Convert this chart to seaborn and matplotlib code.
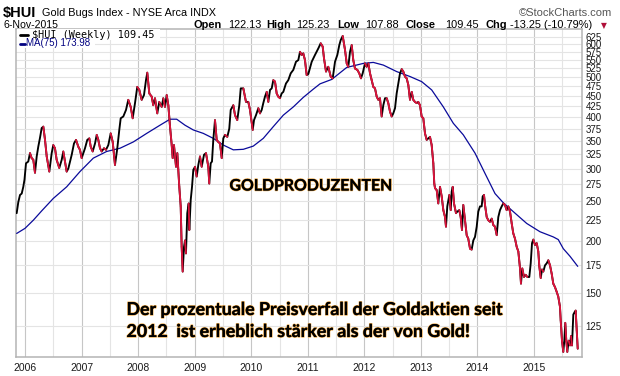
import numpy as np
import pandas as pd
import matplotlib
matplotlib.use("Agg")
import matplotlib.pyplot as plt
import seaborn as sns
from matplotlib.collections import LineCollection
from matplotlib.lines import Line2D
from matplotlib.patches import Rectangle
from matplotlib import patheffects as pe
from matplotlib.ticker import FixedLocator, FixedFormatter, NullLocator

# ---------------- data (decimal year, index value) ----------------
hui_t = [
    2005.853, 2005.882, 2005.912, 2005.942, 2005.970, 2005.991, 2006.018, 2006.058, 2006.088, 2006.118,
    2006.147, 2006.177, 2006.207, 2006.235, 2006.265, 2006.295, 2006.324, 2006.354, 2006.384, 2006.430,
    2006.472, 2006.500, 2006.530, 2006.560, 2006.606, 2006.649, 2006.677, 2006.707, 2006.737, 2006.766,
    2006.796, 2006.826, 2006.866, 2006.902, 2006.942, 2006.972, 2007.002, 2007.061, 2007.101, 2007.137,
    2007.162, 2007.197, 2007.238, 2007.268, 2007.296, 2007.326, 2007.356, 2007.397, 2007.432, 2007.473,
    2007.515, 2007.551, 2007.591, 2007.632, 2007.667, 2007.692, 2007.738, 2007.786, 2007.826, 2007.869,
    2007.904, 2007.945, 2007.985, 2008.021, 2008.063, 2008.104, 2008.139, 2008.162, 2008.198, 2008.240,
    2008.268, 2008.298, 2008.339, 2008.374, 2008.417, 2008.445, 2008.475, 2008.505, 2008.534, 2008.564,
    2008.594, 2008.611, 2008.634, 2008.670, 2008.693, 2008.710, 2008.728, 2008.753, 2008.770, 2008.788,
    2008.811, 2008.829, 2008.846, 2008.869, 2008.894, 2008.905, 2008.930, 2008.953, 2008.976, 2009.006,
    2009.036, 2009.064, 2009.094, 2009.124, 2009.165, 2009.200, 2009.241, 2009.258, 2009.283, 2009.306,
    2009.329, 2009.359, 2009.389, 2009.418, 2009.448, 2009.478, 2009.506, 2009.536, 2009.577, 2009.612,
    2009.637, 2009.683, 2009.713, 2009.753, 2009.789, 2009.814, 2009.860, 2009.907, 2009.948, 2009.978,
    2010.026, 2010.049, 2010.084, 2010.125, 2010.155, 2010.185, 2010.213, 2010.243, 2010.273, 2010.302,
    2010.332, 2010.362, 2010.390, 2010.420, 2010.450, 2010.478, 2010.508, 2010.538, 2010.567, 2010.614,
    2010.655, 2010.698, 2010.744, 2010.791, 2010.832, 2010.862, 2010.892, 2010.920, 2010.950, 2010.980,
    2011.009, 2011.069, 2011.127, 2011.186, 2011.228, 2011.263, 2011.286, 2011.322, 2011.362, 2011.405,
    2011.440, 2011.481, 2011.522, 2011.557, 2011.582, 2011.617, 2011.658, 2011.688, 2011.716, 2011.746,
    2011.776, 2011.804, 2011.834, 2011.875, 2011.910, 2011.940, 2011.970, 2012.011, 2012.041, 2012.070,
    2012.100, 2012.130, 2012.158, 2012.188, 2012.218, 2012.246, 2012.276, 2012.306, 2012.335, 2012.365,
    2012.395, 2012.423, 2012.453, 2012.483, 2012.511, 2012.542, 2012.571, 2012.600, 2012.630, 2012.660,
    2012.688, 2012.718, 2012.748, 2012.777, 2012.807, 2012.837, 2012.865, 2012.895, 2012.925, 2012.953,
    2012.983, 2013.013, 2013.042, 2013.072, 2013.102, 2013.130, 2013.160, 2013.190, 2013.219, 2013.236,
    2013.249, 2013.279, 2013.307, 2013.337, 2013.367, 2013.396, 2013.426, 2013.443, 2013.466, 2013.502,
    2013.527, 2013.544, 2013.562, 2013.585, 2013.620, 2013.643, 2013.678, 2013.703, 2013.726, 2013.749,
    2013.779, 2013.809, 2013.837, 2013.868, 2013.897, 2013.926, 2013.956, 2013.986, 2014.014, 2014.044,
    2014.074, 2014.092, 2014.115, 2014.133, 2014.163, 2014.191, 2014.221, 2014.251, 2014.280, 2014.310,
    2014.340, 2014.368, 2014.398, 2014.428, 2014.456, 2014.486, 2014.516, 2014.545, 2014.575, 2014.605,
    2014.633, 2014.663, 2014.693, 2014.722, 2014.752, 2014.769, 2014.792, 2014.822, 2014.852, 2014.881,
    2014.916, 2014.941, 2014.964, 2014.987, 2015.017, 2015.047, 2015.075, 2015.093, 2015.118, 2015.141,
    2015.164, 2015.194, 2015.224, 2015.252, 2015.282, 2015.312, 2015.340, 2015.370, 2015.400, 2015.428,
    2015.458, 2015.471, 2015.494, 2015.517, 2015.535, 2015.552, 2015.570, 2015.588, 2015.612, 2015.636,
    2015.653, 2015.671, 2015.694, 2015.719, 2015.736, 2015.754, 2015.772,
]
hui_v = [
    234, 249, 259, 261, 271, 282, 309, 312, 327, 318,
    315, 293, 321, 339, 356, 376, 379, 352, 321, 295,
    327, 342, 336, 315, 301, 315, 330, 312, 295, 300,
    312, 324, 345, 352, 339, 333, 318, 336, 352, 355,
    339, 330, 345, 362, 352, 336, 330, 336, 333, 342,
    365, 348, 306, 336, 372, 397, 401, 416, 440, 423,
    397, 432, 473, 465, 440, 452, 491, 512, 456, 448,
    427, 444, 408, 435, 423, 444, 423, 452, 427, 379,
    342, 318, 342, 303, 327, 298, 271, 243, 194, 169,
    194, 201, 187, 234, 247, 213, 252, 271, 298, 303,
    287, 306, 321, 303, 324, 327, 303, 276, 309, 312,
    352, 393, 352, 348, 345, 318, 355, 362, 358, 375,
    416, 427, 404, 393, 427, 469, 469, 435, 435, 416,
    372, 393, 404, 420, 408, 416, 432, 448, 460, 435,
    465, 469, 491, 487, 456, 448, 444, 456, 460, 482,
    491, 510, 520, 544, 549, 575, 565, 570, 549, 505,
    508, 544, 565, 586, 603, 592, 555, 515, 529, 501,
    496, 544, 565, 597, 614, 628, 581, 539, 529, 575,
    597, 549, 524, 520, 510, 496, 510, 539, 529, 539,
    510, 491, 473, 469, 448, 440, 444, 401, 427, 444,
    444, 432, 412, 401, 408, 420, 456, 482, 510, 522,
    515, 501, 496, 478, 440, 460, 440, 435, 432, 435,
    427, 401, 397, 365, 352, 355, 358, 342, 309, 276,
    269, 266, 247, 271, 257, 238, 229, 217, 243, 259,
    238, 264, 271, 247, 234, 236, 238, 229, 213, 245,
    225, 207, 203, 192, 191, 201, 205, 217, 236, 243,
    243, 257, 259, 245, 229, 225, 223, 227, 219, 217,
    207, 229, 238, 243, 247, 245, 238, 243, 236, 221,
    209, 203, 194, 189, 172, 158, 172, 164, 166, 164,
    164, 177, 198, 202, 196, 198, 189, 174, 163, 171,
    169, 175, 177, 180, 175, 167, 158, 155, 151, 147,
    139, 129, 115, 108, 115, 127, 115, 108, 115, 112,
    118, 112, 133, 135, 136, 122, 110,
]
ma_t = [
    2005.853, 2006.000, 2006.147, 2006.295, 2006.500, 2006.737, 2006.972, 2007.208, 2007.444, 2007.680,
    2007.915, 2008.152, 2008.387, 2008.564, 2008.682, 2008.829, 2008.976, 2009.152, 2009.329, 2009.506,
    2009.683, 2009.860, 2010.036, 2010.213, 2010.390, 2010.567, 2010.744, 2010.920, 2011.097, 2011.216,
    2011.423, 2011.688, 2011.981, 2012.158, 2012.335, 2012.571, 2012.807, 2013.013, 2013.190, 2013.396,
    2013.573, 2013.749, 2013.956, 2014.133, 2014.310, 2014.456, 2014.633, 2014.870, 2015.105, 2015.340,
    2015.428, 2015.517, 2015.636, 2015.772,
]
ma_v = [
    209, 215, 225, 237, 254, 271, 295, 318, 330, 336,
    348, 365, 382, 395, 395, 382, 372, 365, 355, 342,
    333, 334, 340, 355, 379, 404, 423, 446, 467, 481,
    493, 527, 539, 542, 534, 515, 501, 487, 465, 423,
    386, 362, 327, 292, 261, 248, 236, 221, 211, 205,
    202, 192, 184, 174,
]
y_ticks = [125, 150, 175, 200, 225, 250, 275, 300, 325, 350, 375, 400, 425,
           450, 475, 500, 525, 550, 575, 600, 625]
year_ticks = [2006, 2007, 2008, 2009, 2010, 2011, 2012, 2013, 2014, 2015]

# ---------------- style ----------------
sns.set_theme(style="white")
plt.rcParams["font.family"] = ["Liberation Sans", "DejaVu Sans"]

W, H = 620, 376
fig = plt.figure(figsize=(W / 100, H / 100), dpi=100)
fig.patch.set_facecolor("white")


def fx(x):
    return x / W


def fy(y):
    return 1 - y / H


L, R, T, B = 16, 582.3, 29, 357
ax = fig.add_axes([fx(L), fy(B), (R - L) / W, (B - T) / H])
ax.set_facecolor("white")
ax.set_yscale("log")

df_hui = pd.DataFrame({"t": hui_t, "v": hui_v})
df_ma = pd.DataFrame({"t": ma_t, "v": ma_v})

sns.lineplot(data=df_ma, x="t", y="v", ax=ax, color="#0a0a9a", lw=0.9,
             estimator=None, sort=False, legend=False, zorder=3)
sns.lineplot(data=df_hui, x="t", y="v", ax=ax, color="black", lw=1.35,
             estimator=None, sort=False, legend=False, zorder=4)
# down-weeks drawn in red (StockCharts colour coding)
t_arr = np.asarray(hui_t)
v_arr = np.asarray(hui_v, dtype=float)
segs = [[(t_arr[i], v_arr[i]), (t_arr[i + 1], v_arr[i + 1])]
        for i in range(len(t_arr) - 1) if v_arr[i + 1] < v_arr[i]]
ax.add_collection(LineCollection(segs, colors="#dc143c", linewidths=1.35,
                                 zorder=5, capstyle="round"))

ax.set_xlim(2005.841, 2015.853)
ax.set_ylim(105.0, 652.9)

ax.yaxis.set_major_locator(FixedLocator(y_ticks))
ax.yaxis.set_major_formatter(FixedFormatter([str(v) for v in y_ticks]))
ax.yaxis.set_minor_locator(NullLocator())
ax.yaxis.tick_right()
ax.tick_params(axis="y", which="major", length=0, pad=2.5, labelsize=7.0,
               labelcolor="#1a1a1a")

ax.xaxis.set_major_locator(FixedLocator(year_ticks))
ax.xaxis.set_major_formatter(FixedFormatter([str(y) for y in year_ticks]))
ax.xaxis.set_minor_locator(FixedLocator([y + 0.5 for y in range(2005, 2016)]))
ax.tick_params(axis="x", which="both", length=0, pad=4, labelsize=7.5,
               labelcolor="#1a1a1a")

ax.grid(True, which="major", axis="x", color="#c6c6c6", lw=0.8)
ax.grid(True, which="minor", axis="x", color="#e4e4e4", lw=0.8)
ax.grid(True, which="major", axis="y", color="#e4e4e4", lw=0.8)
ax.set_axisbelow(True)
ax.set_xlabel("")
ax.set_ylabel("")
for s in ax.spines.values():
    s.set_color("#b4b4b4")
    s.set_linewidth(1.1)
    s.set_visible(True)

# ---------------- header ----------------
fig.text(fx(3), fy(12.5), "$HUI", weight="bold", fontsize=10.5, va="center",
         ha="left", color="black")
fig.text(fx(41.5), fy(12.5), "Gold Bugs Index - NYSE Arca INDX", fontsize=7.8,
         va="center", ha="left", color="black")
fig.text(fx(612), fy(12.5), "\u00a9StockCharts.com", fontsize=8.0, va="center",
         ha="right", color="#555555")
fig.text(fx(3), fy(25.5), "6-Nov-2015", fontsize=7.6, va="center", ha="left",
         color="black")

hdr = [("Open", 194.0, True), ("122.13", 228.0, False),
       ("High", 266.5, True), ("125.23", 296.5, False),
       ("Low", 337.0, True), ("107.88", 365.5, False),
       ("Close", 406.0, True), ("109.45", 445.0, False),
       ("Chg", 485.0, True), ("-13.25 (-10.79%)", 509.5, False)]
for txt, x, bold in hdr:
    fig.text(fx(x), fy(25.5), txt, fontsize=7.9, va="center", ha="left",
             weight="bold" if bold else "normal", color="black")
fig.text(fx(604), fy(26), "\u25bc", fontsize=5.5, va="center", ha="center",
         color="#b0103a", family=["DejaVu Sans"])

# ---------------- legend inside the plot ----------------
fig.add_artist(Rectangle((fx(17), fy(40)), (160 - 17) / W, 10.5 / H,
                         facecolor="white", edgecolor="none", zorder=6))
fig.add_artist(Rectangle((fx(17), fy(48)), (95 - 17) / W, 8.5 / H,
                         facecolor="white", edgecolor="none", zorder=6))
fig.add_artist(Line2D([fx(20), fx(28)], [fy(35), fy(35)], color="black", lw=2.0,
                      zorder=7))
fig.text(fx(31.5), fy(35), "$HUI (Weekly) 109.45", family=["DejaVu Sans Mono"],
         fontsize=7.3, va="center", ha="left", color="black", zorder=7)
fig.add_artist(Line2D([fx(20), fx(25)], [fy(43.5), fy(43.5)], color="#000080",
                      lw=2.0, zorder=7))
fig.text(fx(25.5), fy(43.5), "MA(75) 173.98", fontsize=7.0, va="center",
         ha="left", color="#000080", zorder=7)

# ---------------- annotations ----------------
glow = [pe.withStroke(linewidth=1.0, foreground="#eaa84a"), pe.Normal()]
fig.text(fx(311), fy(186.5), "GOLDPRODUZENTEN", family=["Lato", "DejaVu Sans"],
         weight="bold", fontsize=11.4, va="center", ha="center", color="black",
         path_effects=glow, zorder=8)
fig.text(fx(126.5), fy(315), "Der prozentuale Preisverfall der Goldaktien seit",
         family=["Lato", "DejaVu Sans"], weight="bold", fontsize=12.8,
         va="baseline", ha="left", color="black", path_effects=glow, zorder=8)
fig.text(fx(126.5), fy(337), "2012  ist erheblich st\u00e4rker als der von Gold!",
         family=["Lato", "DejaVu Sans"], weight="bold", fontsize=12.8,
         va="baseline", ha="left", color="black", path_effects=glow, zorder=8)

fig.savefig("out.png", dpi=100, facecolor="white")
